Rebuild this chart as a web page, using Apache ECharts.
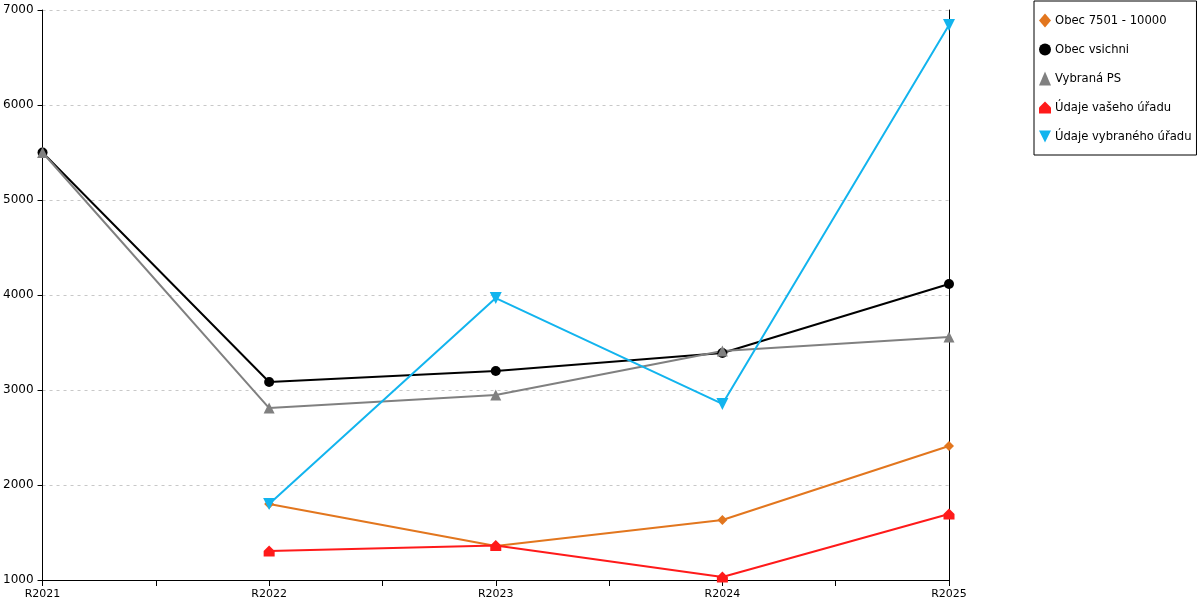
<!DOCTYPE html>
<html>
<head>
<meta charset="utf-8">
<script src="https://cdn.jsdelivr.net/npm/echarts@6/dist/echarts.min.js"></script>
<style>
  html, body { margin: 0; padding: 0; background: #fff; }
  #chart { width: 1200px; height: 600px; }
</style>
</head>
<body>
<div id="chart"></div>
<script>
// data
const roky = ['R2021', 'R2022', 'R2023', 'R2024', 'R2025'];
const obec7501 = [null, 1800, 1358, 1632, 2410];
const obecVsichni = [5500, 3084, 3200, 3389, 4116];
const vybranaPS = [5500, 2810, 2947, 3410, 3558];
const vasUrad = [null, 1305, 1362, 1032, 1695];
const vybranyUrad = [null, 1800, 3968, 2853, 6842];
const osaY = { min: 1000, max: 7000, krok: 1000 };

const domek = 'path://M0,5 L5,0 L10,5 L10,10 L0,10 Z';
const dolu = 'path://M0,0 L10,0 L5,10 Z';
const pismo = 'DejaVu Sans';

function rada(name, data, color, symbol, size) {
    return {
        name: name,
        type: 'line',
        data: data,
        symbol: symbol,
        symbolSize: size,
        showAllSymbol: true,
        connectNulls: false,
        itemStyle: { color: color },
        lineStyle: { color: color, width: 2 },
        emphasis: { disabled: true },
        animation: false
    };
}

// pomocne body pro carky na ose x (kategorie + pulky)
const pulky = [];
for (let i = 0; i < roky.length * 2 - 1; i++) pulky.push(String(i));

const chart = echarts.init(document.getElementById('chart'));
chart.setOption({
    animation: false,
    textStyle: { fontFamily: pismo },
    grid: { left: 40, right: 251, top: 10, bottom: 20, containLabel: false },
    legend: {
        orient: 'vertical',
        left: 1034,
        top: 1,
        padding: [12, 5, 11, 5],
        itemGap: 14,
        itemWidth: 12,
        itemHeight: 14,
        borderColor: '#000',
        borderWidth: 1,
        selectedMode: false,
        textStyle: { fontFamily: pismo, fontSize: 11.6, color: '#000', lineHeight: 15, padding: [0, 0, 0, -1] },
        data: [
            { name: 'Obec 7501 - 10000', icon: 'diamond' },
            { name: 'Obec vsichni', icon: 'circle' },
            { name: 'Vybraná PS', icon: 'triangle' },
            { name: 'Údaje vašeho úřadu', icon: domek },
            { name: 'Údaje vybraného úřadu', icon: dolu }
        ]
    },
    xAxis: [
        {
            type: 'category',
            data: roky,
            boundaryGap: false,
            axisLine: { lineStyle: { color: '#000', width: 1 } },
            axisTick: { show: false },
            axisLabel: { color: '#000', fontSize: 11, fontFamily: pismo, margin: 9 },
            splitLine: { show: false }
        },
        {
            type: 'category',
            data: pulky,
            position: 'bottom',
            boundaryGap: false,
            axisLine: { show: false },
            axisTick: { show: true, interval: 0, length: 6, inside: false, lineStyle: { color: '#000' } },
            axisLabel: { show: false },
            splitLine: { show: false }
        }
    ],
    yAxis: [
        {
            type: 'value',
            min: osaY.min,
            max: osaY.max,
            interval: osaY.krok,
            axisLine: { show: true, lineStyle: { color: '#000', width: 1 } },
            axisTick: { show: true, length: 5, lineStyle: { color: '#000' } },
            axisLabel: { color: '#000', fontSize: 12, fontFamily: pismo, margin: 9, formatter: v => String(v) },
            splitLine: { show: true, lineStyle: { color: '#c8c8c8', type: [3, 4], width: 1 } }
        },
        {
            type: 'value',
            position: 'right',
            min: osaY.min,
            max: osaY.max,
            interval: osaY.krok,
            axisLine: { show: true, lineStyle: { color: '#000', width: 1 } },
            axisTick: { show: false },
            axisLabel: { show: false },
            splitLine: { show: false }
        }
    ],
    series: [
        rada('Obec 7501 - 10000', obec7501, '#e2761e', 'diamond', 10),
        rada('Obec vsichni', obecVsichni, '#000000', 'circle', 10),
        rada('Vybraná PS', vybranaPS, '#808080', 'triangle', 11),
        rada('Údaje vašeho úřadu', vasUrad, '#ff1a1a', domek, 11),
        rada('Údaje vybraného úřadu', vybranyUrad, '#12b4ee', dolu, 12)
    ]
});
</script>
</body>
</html>
